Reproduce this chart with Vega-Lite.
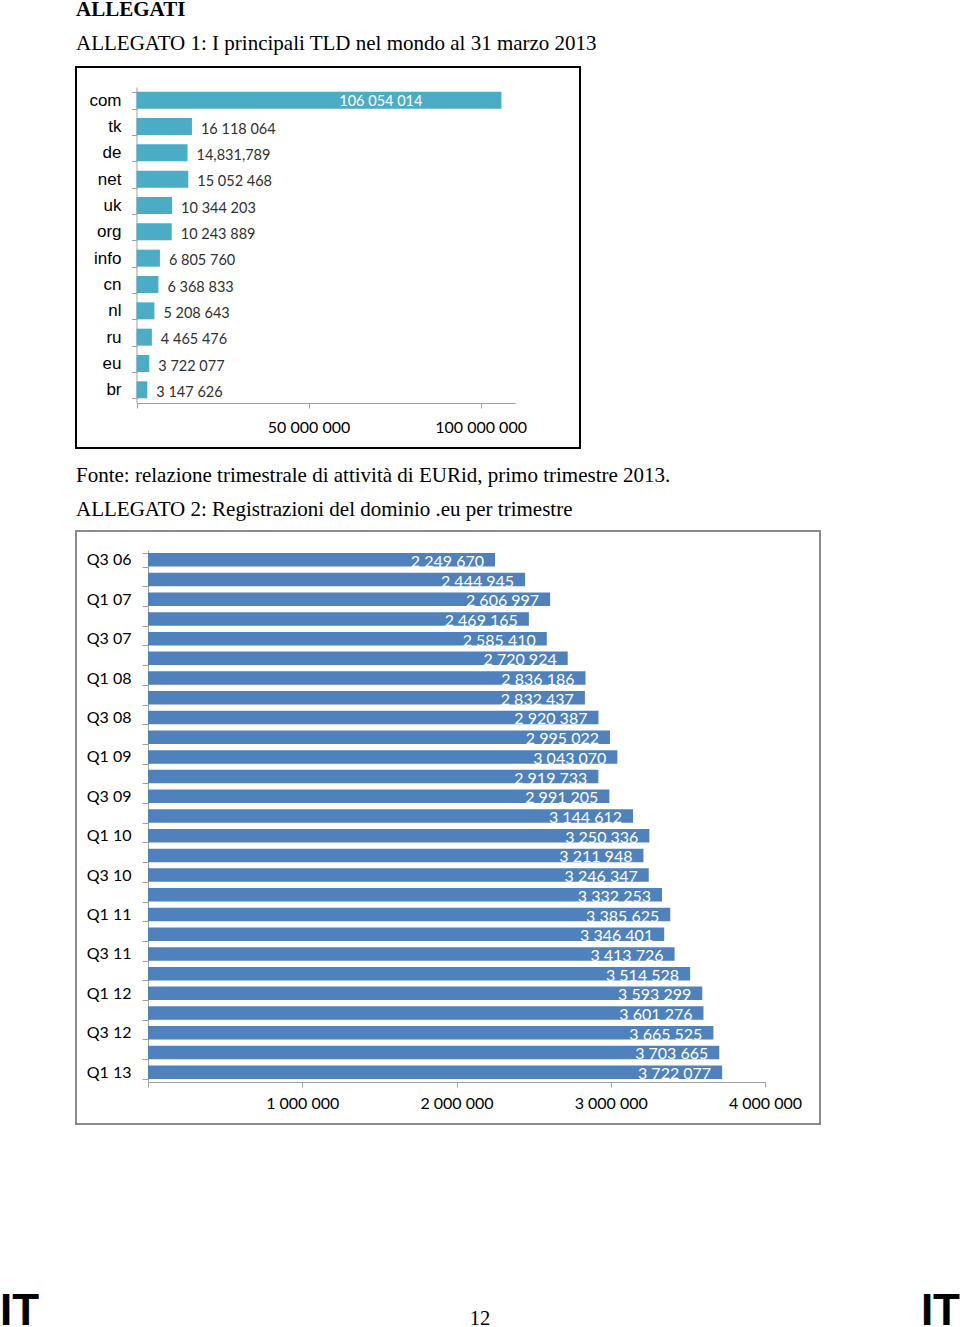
{
  "$schema": "https://vega.github.io/schema/vega-lite/v6.json",
  "padding": {"left": 0, "top": -2, "right": 0, "bottom": 2},
  "background": "white",
  "spacing": 15,
  "columns": 1,
  "align": "none",
  "config": {
    "axis": {"labelColor": "#000000", "domainColor": "#a0a0a0", "tickColor": "#a0a0a0", "gridColor": "#a8a8a8", "labelOverlap": false, "labelFlush": false, "title": null}
  },
  "concat": [
    {
      "width": 504,
      "height": 381,
      "view": {"stroke": "#000000", "strokeWidth": 2},
      "title": {
        "text": "ALLEGATI",
        "subtitle": "ALLEGATO 1: I principali TLD nel mondo al 31 marzo 2013",
        "anchor": "start",
        "frame": "group",
        "font": "Liberation Serif",
        "fontSize": 21,
        "fontWeight": "bold",
        "color": "#000000",
        "subtitleFont": "Liberation Serif",
        "subtitleFontSize": 21,
        "subtitleColor": "#000000",
        "subtitlePadding": 12.5,
        "offset": 4.5
      },
      "data": {
        "values": [
          {"tld": "com", "value": 106054014, "label": "106 054 014"},
          {"tld": "tk", "value": 16118064, "label": "16 118 064"},
          {"tld": "de", "value": 14831789, "label": "14,831,789"},
          {"tld": "net", "value": 15052468, "label": "15 052 468"},
          {"tld": "uk", "value": 10344203, "label": "10 344 203"},
          {"tld": "org", "value": 10243889, "label": "10 243 889"},
          {"tld": "info", "value": 6805760, "label": "6 805 760"},
          {"tld": "cn", "value": 6368833, "label": "6 368 833"},
          {"tld": "nl", "value": 5208643, "label": "5 208 643"},
          {"tld": "ru", "value": 4465476, "label": "4 465 476"},
          {"tld": "eu", "value": 3722077, "label": "3 722 077"},
          {"tld": "br", "value": 3147626, "label": "3 147 626"}
        ]
      },
      "encoding": {
        "y": {
          "field": "tld", "type": "nominal", "sort": null,
          "scale": {"range": [20, 336], "paddingInner": 0.355, "paddingOuter": 0.1775},
          "axis": {"orient": "left", "offset": -60.5, "minExtent": 135.5, "tickBand": "extent", "tickSize": 5, "labelPadding": 10.5, "labelFont": "Liberation Sans", "labelFontSize": 17, "grid": false}
        },
        "x": {
          "field": "value", "type": "quantitative",
          "scale": {"domain": [0, 110000000], "range": [60.5, 439], "nice": false, "zero": true},
          "axis": {"offset": -45, "values": [0, 50000000, 100000000], "labelExpr": "datum.value == 0 ? '' : replace(format(datum.value, ','), regexp(',', 'g'), ' ')", "tickSize": 5, "labelPadding": 11.5, "labelFont": "Lato", "labelFontSize": 16, "grid": false}
        }
      },
      "layer": [
        {
          "data": {"values": [{"value": 50000000}, {"value": 100000000}]},
          "mark": {"type": "rule", "color": "#a8a8a8", "strokeWidth": 1.2},
          "encoding": {
            "y": {"datum": 0, "type": "quantitative", "scale": {"domain": [0, 1], "range": [20, 336]}, "axis": null},
            "y2": {"datum": 1}
          }
        },
        {
          "layer": [
            {"mark": {"type": "bar", "color": "#4bacc6"}},
            {
              "transform": [{"filter": "datum.value < 50000000"}],
              "mark": {"type": "text", "align": "left", "baseline": "alphabetic", "dx": 9, "dy": 7, "font": "Lato", "fontSize": 14.5, "color": "#303030"},
              "encoding": {"text": {"field": "label"}}
            },
            {
              "transform": [{"filter": "datum.value >= 50000000"}],
              "mark": {"type": "text", "align": "right", "baseline": "alphabetic", "dx": -79, "dy": 6, "font": "Lato", "fontSize": 14.5, "color": "#ffffff"},
              "encoding": {"text": {"field": "label"}}
            }
          ]
        }
      ],
      "resolve": {"scale": {"y": "independent"}, "axis": {"y": "independent"}}
    },
    {
      "width": 744,
      "height": 593,
      "view": {"stroke": "#8c8c8c", "strokeWidth": 2},
      "title": {
        "text": "Fonte: relazione trimestrale di attività di EURid, primo trimestre 2013.",
        "subtitle": "ALLEGATO 2: Registrazioni del dominio .eu per trimestre",
        "anchor": "start",
        "frame": "group",
        "font": "Liberation Serif",
        "fontSize": 21,
        "fontWeight": "normal",
        "color": "#000000",
        "subtitleFont": "Liberation Serif",
        "subtitleFontSize": 21,
        "subtitleColor": "#000000",
        "subtitlePadding": 12.5,
        "offset": 3.5
      },
      "data": {
        "values": [
          {"q": "Q3 06", "value": 2249670, "label": "2 249 670"},
          {"q": "Q4 06", "value": 2444945, "label": "2 444 945"},
          {"q": "Q1 07", "value": 2606997, "label": "2 606 997"},
          {"q": "Q2 07", "value": 2469165, "label": "2 469 165"},
          {"q": "Q3 07", "value": 2585410, "label": "2 585 410"},
          {"q": "Q4 07", "value": 2720924, "label": "2 720 924"},
          {"q": "Q1 08", "value": 2836186, "label": "2 836 186"},
          {"q": "Q2 08", "value": 2832437, "label": "2 832 437"},
          {"q": "Q3 08", "value": 2920387, "label": "2 920 387"},
          {"q": "Q4 08", "value": 2995022, "label": "2 995 022"},
          {"q": "Q1 09", "value": 3043070, "label": "3 043 070"},
          {"q": "Q2 09", "value": 2919733, "label": "2 919 733"},
          {"q": "Q3 09", "value": 2991205, "label": "2 991 205"},
          {"q": "Q4 09", "value": 3144612, "label": "3 144 612"},
          {"q": "Q1 10", "value": 3250336, "label": "3 250 336"},
          {"q": "Q2 10", "value": 3211948, "label": "3 211 948"},
          {"q": "Q3 10", "value": 3246347, "label": "3 246 347"},
          {"q": "Q4 10", "value": 3332253, "label": "3 332 253"},
          {"q": "Q1 11", "value": 3385625, "label": "3 385 625"},
          {"q": "Q2 11", "value": 3346401, "label": "3 346 401"},
          {"q": "Q3 11", "value": 3413726, "label": "3 413 726"},
          {"q": "Q4 11", "value": 3514528, "label": "3 514 528"},
          {"q": "Q1 12", "value": 3593299, "label": "3 593 299"},
          {"q": "Q2 12", "value": 3601276, "label": "3 601 276"},
          {"q": "Q3 12", "value": 3665525, "label": "3 665 525"},
          {"q": "Q4 12", "value": 3703665, "label": "3 703 665"},
          {"q": "Q1 13", "value": 3722077, "label": "3 722 077"}
        ]
      },
      "encoding": {
        "y": {
          "field": "q", "type": "nominal", "sort": null,
          "scale": {"range": [19, 551], "paddingInner": 0.315, "paddingOuter": 0.1575},
          "axis": {"orient": "left", "offset": -72, "minExtent": 147, "tickBand": "extent", "tickSize": 6, "labelPadding": 11, "labelFont": "Lato", "labelFontSize": 16, "grid": false, "labelExpr": "substring(datum.value, 0, 2) == 'Q1' || substring(datum.value, 0, 2) == 'Q3' ? datum.value : ''"}
        },
        "x": {
          "field": "value", "type": "quantitative",
          "scale": {"domain": [0, 4000000], "range": [72, 689], "nice": false},
          "axis": {"offset": -42, "values": [0, 1000000, 2000000, 3000000, 4000000], "labelExpr": "datum.value == 0 ? '' : replace(format(datum.value, ','), regexp(',', 'g'), ' ')", "tickSize": 5, "labelPadding": 8.5, "labelFont": "Lato", "labelFontSize": 16, "grid": false}
        }
      },
      "layer": [
        {
          "data": {"values": [{"value": 1000000}, {"value": 2000000}, {"value": 3000000}, {"value": 4000000}]},
          "mark": {"type": "rule", "color": "#b0b0b0", "strokeWidth": 1.5},
          "encoding": {
            "y": {"datum": 0, "type": "quantitative", "scale": {"domain": [0, 1], "range": [19, 551]}, "axis": null},
            "y2": {"datum": 1}
          }
        },
        {
          "layer": [
            {"mark": {"type": "bar", "color": "#4f81bd"}},
            {
              "mark": {"type": "text", "align": "right", "baseline": "alphabetic", "dx": -11, "dy": 7, "font": "Lato", "fontSize": 16, "color": "#ffffff"},
              "encoding": {"text": {"field": "label"}}
            }
          ]
        }
      ],
      "resolve": {"scale": {"y": "independent"}, "axis": {"y": "independent"}}
    },
    {
      "width": 884,
      "height": 185,
      "view": {"stroke": null},
      "data": {"values": [{"pos": "L", "t": "IT"}, {"pos": "C", "t": "12"}, {"pos": "R", "t": "IT"}]},
      "encoding": {
        "x": {"field": "pos", "type": "nominal", "scale": {"type": "point", "domain": ["L", "C", "R"], "range": [-76, 884], "padding": 0}, "axis": null},
        "y": {"datum": 0, "type": "quantitative", "scale": {"domain": [0, 1]}, "axis": null},
        "text": {"field": "t"}
      },
      "layer": [
        {"transform": [{"filter": "datum.pos == 'L'"}], "mark": {"type": "text", "align": "left", "baseline": "alphabetic", "font": "Liberation Sans", "fontWeight": "bold", "fontSize": 44, "color": "#000000"}},
        {"transform": [{"filter": "datum.pos == 'C'"}], "mark": {"type": "text", "align": "center", "baseline": "alphabetic", "font": "Liberation Serif", "fontSize": 20.5, "color": "#000000"}},
        {"transform": [{"filter": "datum.pos == 'R'"}], "mark": {"type": "text", "align": "right", "baseline": "alphabetic", "font": "Liberation Sans", "fontWeight": "bold", "fontSize": 44, "color": "#000000"}}
      ]
    }
  ]
}
